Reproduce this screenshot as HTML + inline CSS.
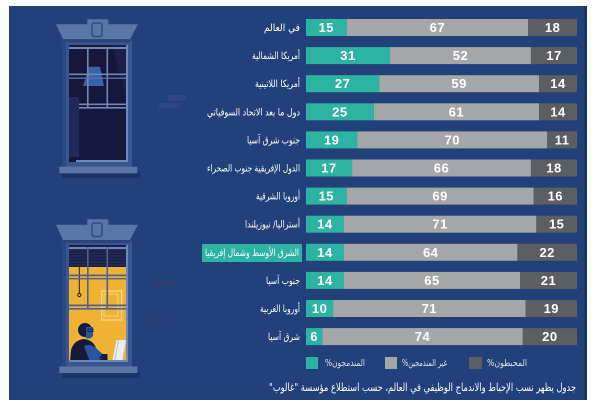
<!DOCTYPE html>
<html><head><meta charset="utf-8"><style>
html,body{margin:0;padding:0;background:#fff;}
body{width:600px;height:408px;overflow:hidden;}
svg{display:block;}
.lb{font-family:"DejaVu Sans",sans-serif;font-size:10px;fill:#fff;}
.nm{font-family:"Liberation Sans",sans-serif;font-weight:bold;font-size:13px;fill:#fff;letter-spacing:0.5px;}
</style></head><body>
<svg width="600" height="408" viewBox="0 0 600 408" xmlns="http://www.w3.org/2000/svg">
<rect x="9" y="6" width="578" height="394" fill="#22407a"/>
<rect x="584" y="6" width="3" height="394" fill="#1b3668"/>

<!-- bricks -->
<rect x="168" y="95" width="18" height="6" fill="#2f4680"/>
<rect x="159" y="103" width="21" height="5" fill="#2f4680"/>
<rect x="155" y="280" width="21" height="6" fill="#2c3f72"/>
<rect x="145" y="317" width="21" height="6" fill="#2c3f72"/>

<!-- TOP WINDOW -->
<g>
<rect x="62" y="39" width="70" height="128" fill="#2c4882"/>
<rect x="66" y="41" width="66" height="126" fill="#3a5690"/>
<rect x="69" y="45" width="58" height="117" fill="#17163b"/>
<polygon points="83,86 89,66.7 100,66.7 104,86" fill="#3763a8"/>
<polygon points="112,45 127,45 127,100" fill="#1f2250" opacity="0.8"/>
<rect x="69" y="47" width="58" height="2" fill="#6f88b8"/>
<rect x="87" y="47" width="1.6" height="60" fill="#6f88b8"/>
<rect x="106.5" y="47" width="1.6" height="60" fill="#6f88b8"/>
<rect x="69" y="73.5" width="58" height="1.6" fill="#6f88b8"/>
<rect x="69" y="77.5" width="58" height="1.4" fill="#5670a5"/>
<rect x="76" y="103.5" width="51" height="1.6" fill="#6f88b8"/>
<rect x="76" y="107" width="51" height="1.6" fill="#6f88b8"/>
<rect x="69" y="97" width="10" height="60" fill="#22285a"/>
<rect x="126" y="45" width="2" height="117" fill="#6f88b8"/>
<rect x="76" y="160" width="52" height="2" fill="#6f88b8"/>
<polygon points="56,24.3 138,24.3 130,39.3 63,39.3" fill="#5a76a8"/>
<rect x="63" y="39.3" width="67" height="3" fill="#2a4379"/>
<rect x="87.3" y="19.3" width="21" height="19" fill="#5a76a8"/>
<rect x="92" y="23" width="10" height="13.5" rx="2.5" fill="none" stroke="#2f4d85" stroke-width="1.6"/>
<rect x="62" y="172" width="78" height="6" fill="#1b3466"/>
<rect x="59.3" y="166.7" width="78" height="6.6" fill="#5a76a8"/>
</g>

<!-- BOTTOM WINDOW -->
<g>
<rect x="62" y="240" width="70" height="127" fill="#2c4882"/>
<rect x="66" y="242" width="66" height="125" fill="#3a5690"/>
<rect x="69" y="245" width="58" height="117" fill="#f0b233"/>
<rect x="69" y="245" width="58" height="22" fill="#1a1d45"/>
<g stroke="#2e3a6a" stroke-width="0.8">
<line x1="69" y1="250" x2="127" y2="250"/><line x1="69" y1="253" x2="127" y2="253"/>
<line x1="69" y1="256" x2="127" y2="256"/><line x1="69" y1="259" x2="127" y2="259"/>
<line x1="69" y1="262" x2="127" y2="262"/><line x1="69" y1="265" x2="127" y2="265"/>
</g>
<rect x="69" y="247" width="58" height="2" fill="#6f88b8"/>
<line x1="79.3" y1="267" x2="79.3" y2="294" stroke="#1a1d45" stroke-width="1"/>
<circle cx="79.3" cy="295" r="1.6" fill="none" stroke="#1a1d45" stroke-width="1"/>
<rect x="101.7" y="291" width="20" height="29" fill="none" stroke="#f8dc95" stroke-width="1.2"/>
<rect x="104" y="294" width="14" height="22" fill="none" stroke="#f8dc95" stroke-width="0.8"/>
<rect x="87" y="247" width="1.6" height="61" fill="#4a6299"/>
<rect x="106.5" y="247" width="1.6" height="61" fill="#4a6299"/>
<rect x="69" y="274.5" width="58" height="1.8" fill="#4a6299"/>
<rect x="69" y="278" width="58" height="1.4" fill="#4a6299"/>
<rect x="69" y="304.5" width="58" height="1.8" fill="#4a6299"/>
<rect x="69" y="308" width="58" height="1.6" fill="#4a6299"/>
<!-- person -->
<path d="M70,362 L71,350 Q74,340 84,339 Q93,340 96,348 L99,362 Z" fill="#151a3a"/>
<path d="M84,346 Q92,343 98,350 L106,357 L104,362 L90,362 Z" fill="#2a56a0"/>
<circle cx="85" cy="330" r="7" fill="#151a3a"/>
<path d="M86,327 L93,327 L93,336 Q90,340 86,338 Z" fill="#2a56a0"/>
<rect x="88" y="329" width="5" height="2.5" fill="none" stroke="#151a3a" stroke-width="0.9"/>
<rect x="101.5" y="354" width="6" height="8" fill="#151a3a"/>
<path d="M101.5,356 Q98.5,358 101.5,360" fill="none" stroke="#151a3a" stroke-width="1.2"/>
<polygon points="112,362 116.5,340 126,340 122,362" fill="#e8edf4"/>
<polygon points="114,362 118,340 119,340 115,362" fill="#b9c3d6"/>
<rect x="126" y="245" width="2" height="117" fill="#6f88b8"/>
<rect x="69" y="360" width="59" height="2" fill="#6f88b8"/>
<polygon points="56,224.7 138,224.7 130,240 63,240" fill="#5a76a8"/>
<rect x="63" y="240" width="67" height="3" fill="#2a4379"/>
<rect x="87.3" y="219.3" width="21" height="19.4" fill="#5a76a8"/>
<rect x="92" y="223" width="10" height="13.5" rx="2.5" fill="none" stroke="#2f4d85" stroke-width="1.6"/>
<rect x="62" y="372" width="78" height="6" fill="#1b3466"/>
<rect x="59.3" y="366.5" width="78" height="6.6" fill="#5a76a8"/>
</g>

<!-- highlight box -->
<rect x="202" y="244" width="100" height="18" fill="#2db3a2"/>

<!-- BARS -->
<g>
<rect x="306" y="19" width="40.65" height="17" fill="#2db3a2"/><rect x="346.65" y="19" width="181.57" height="17" fill="#a5a6a8"/><rect x="528.22" y="19" width="48.78" height="17" fill="#5d5e61"/>
<rect x="306" y="47.1" width="84.01" height="17" fill="#2db3a2"/><rect x="390.01" y="47.1" width="140.92" height="17" fill="#a5a6a8"/><rect x="530.93" y="47.1" width="46.07" height="17" fill="#5d5e61"/>
<rect x="306" y="75.2" width="73.17" height="17" fill="#2db3a2"/><rect x="379.17" y="75.2" width="159.89" height="17" fill="#a5a6a8"/><rect x="539.06" y="75.2" width="37.94" height="17" fill="#5d5e61"/>
<rect x="306" y="103.3" width="67.75" height="17" fill="#2db3a2"/><rect x="373.75" y="103.3" width="165.31" height="17" fill="#a5a6a8"/><rect x="539.06" y="103.3" width="37.94" height="17" fill="#5d5e61"/>
<rect x="306" y="131.4" width="51.49" height="17" fill="#2db3a2"/><rect x="357.49" y="131.4" width="189.7" height="17" fill="#a5a6a8"/><rect x="547.19" y="131.4" width="29.81" height="17" fill="#5d5e61"/>
<rect x="306" y="159.5" width="46.07" height="17" fill="#2db3a2"/><rect x="352.07" y="159.5" width="178.86" height="17" fill="#a5a6a8"/><rect x="530.93" y="159.5" width="46.07" height="17" fill="#5d5e61"/>
<rect x="306" y="187.6" width="40.65" height="17" fill="#2db3a2"/><rect x="346.65" y="187.6" width="186.99" height="17" fill="#a5a6a8"/><rect x="533.64" y="187.6" width="43.36" height="17" fill="#5d5e61"/>
<rect x="306" y="215.7" width="37.94" height="17" fill="#2db3a2"/><rect x="343.94" y="215.7" width="192.41" height="17" fill="#a5a6a8"/><rect x="536.35" y="215.7" width="40.65" height="17" fill="#5d5e61"/>
<rect x="306" y="243.8" width="37.94" height="17" fill="#2db3a2"/><rect x="343.94" y="243.8" width="173.44" height="17" fill="#a5a6a8"/><rect x="517.38" y="243.8" width="59.62" height="17" fill="#5d5e61"/>
<rect x="306" y="271.9" width="37.94" height="17" fill="#2db3a2"/><rect x="343.94" y="271.9" width="176.15" height="17" fill="#a5a6a8"/><rect x="520.09" y="271.9" width="56.91" height="17" fill="#5d5e61"/>
<rect x="306" y="300" width="27.1" height="17" fill="#2db3a2"/><rect x="333.1" y="300" width="192.41" height="17" fill="#a5a6a8"/><rect x="525.51" y="300" width="51.49" height="17" fill="#5d5e61"/>
<rect x="306" y="328.1" width="16.26" height="17" fill="#2db3a2"/><rect x="322.26" y="328.1" width="200.54" height="17" fill="#a5a6a8"/><rect x="522.8" y="328.1" width="54.2" height="17" fill="#5d5e61"/>
</g>

<!-- NUMBERS -->
<g class="nm" text-anchor="middle">
<text x="326.3" y="32">15</text><text x="437.4" y="32">67</text><text x="552.6" y="32">18</text>
<text x="348" y="60.1">31</text><text x="460.5" y="60.1">52</text><text x="554" y="60.1">17</text>
<text x="342.6" y="88.2">27</text><text x="459.1" y="88.2">59</text><text x="558" y="88.2">14</text>
<text x="339.9" y="116.3">25</text><text x="456.4" y="116.3">61</text><text x="558" y="116.3">14</text>
<text x="331.7" y="144.4">19</text><text x="452.3" y="144.4">70</text><text x="562.1" y="144.4">11</text>
<text x="329" y="172.5">17</text><text x="441.5" y="172.5">66</text><text x="554" y="172.5">18</text>
<text x="326.3" y="200.6">15</text><text x="440.1" y="200.6">69</text><text x="555.3" y="200.6">16</text>
<text x="325" y="228.7">14</text><text x="440.1" y="228.7">71</text><text x="556.7" y="228.7">15</text>
<text x="325" y="256.8">14</text><text x="430.7" y="256.8">64</text><text x="547.2" y="256.8">22</text>
<text x="325" y="284.9">14</text><text x="432" y="284.9">65</text><text x="548.5" y="284.9">21</text>
<text x="319.6" y="313">10</text><text x="429.3" y="313">71</text><text x="551.3" y="313">19</text>
<text x="314.1" y="341.1">6</text><text x="422.5" y="341.1">74</text><text x="549.9" y="341.1">20</text>
</g>

<!-- LABELS -->
<g class="lb" text-anchor="middle" direction="rtl">
<text x="282" y="31" textLength="36" lengthAdjust="spacingAndGlyphs">في العالم</text>
<text x="276" y="59.1" textLength="48" lengthAdjust="spacingAndGlyphs">أمريكا الشمالية</text>
<text x="277.5" y="87.2" textLength="45" lengthAdjust="spacingAndGlyphs">أمريكا اللاتينية</text>
<text x="253.5" y="115.3" textLength="93" lengthAdjust="spacingAndGlyphs">دول ما بعد الاتحاد السوفياتي</text>
<text x="273.5" y="143.4" textLength="53" lengthAdjust="spacingAndGlyphs">جنوب شرق آسيا</text>
<text x="253.5" y="171.5" textLength="93" lengthAdjust="spacingAndGlyphs">الدول الإفريقية جنوب الصحراء</text>
<text x="278" y="199.6" textLength="44" lengthAdjust="spacingAndGlyphs">أوروبا الشرقية</text>
<text x="272.5" y="227.7" textLength="55" lengthAdjust="spacingAndGlyphs">أستراليا/ نيوزيلندا</text>
<text x="252" y="255.8" textLength="94" lengthAdjust="spacingAndGlyphs">الشرق الأوسط وشمال إفريقيا</text>
<text x="283" y="283.9" textLength="34" lengthAdjust="spacingAndGlyphs">جنوب آسيا</text>
<text x="280" y="312" textLength="40" lengthAdjust="spacingAndGlyphs">أوروبا الغربية</text>
<text x="284" y="340.1" textLength="32" lengthAdjust="spacingAndGlyphs">شرق آسيا</text>
</g>

<!-- LEGEND -->
<rect x="306" y="357" width="12" height="12" fill="#2db3a2"/>
<rect x="385" y="357" width="12" height="12" fill="#a5a6a8"/>
<rect x="469" y="357" width="13" height="12" fill="#5d5e61"/>
<g class="lb" text-anchor="middle" direction="rtl" style="fill:#dde2ea;font-size:9.5px">
<text x="345" y="366" textLength="40" lengthAdjust="spacingAndGlyphs">المندمجون%</text>
<text x="424.5" y="366" textLength="45" lengthAdjust="spacingAndGlyphs">غير المندمجين%</text>
<text x="507" y="366" textLength="40" lengthAdjust="spacingAndGlyphs">المحبطون%</text>
</g>

<!-- CAPTION -->
<text class="lb" x="422.5" y="391" text-anchor="middle" direction="rtl" style="font-size:11px" textLength="307" lengthAdjust="spacingAndGlyphs">جدول يظهر نسب الإحباط والاندماج الوظيفي في العالم، حسب استطلاع مؤسسة "غالوب"</text>
</svg>
</body></html>
